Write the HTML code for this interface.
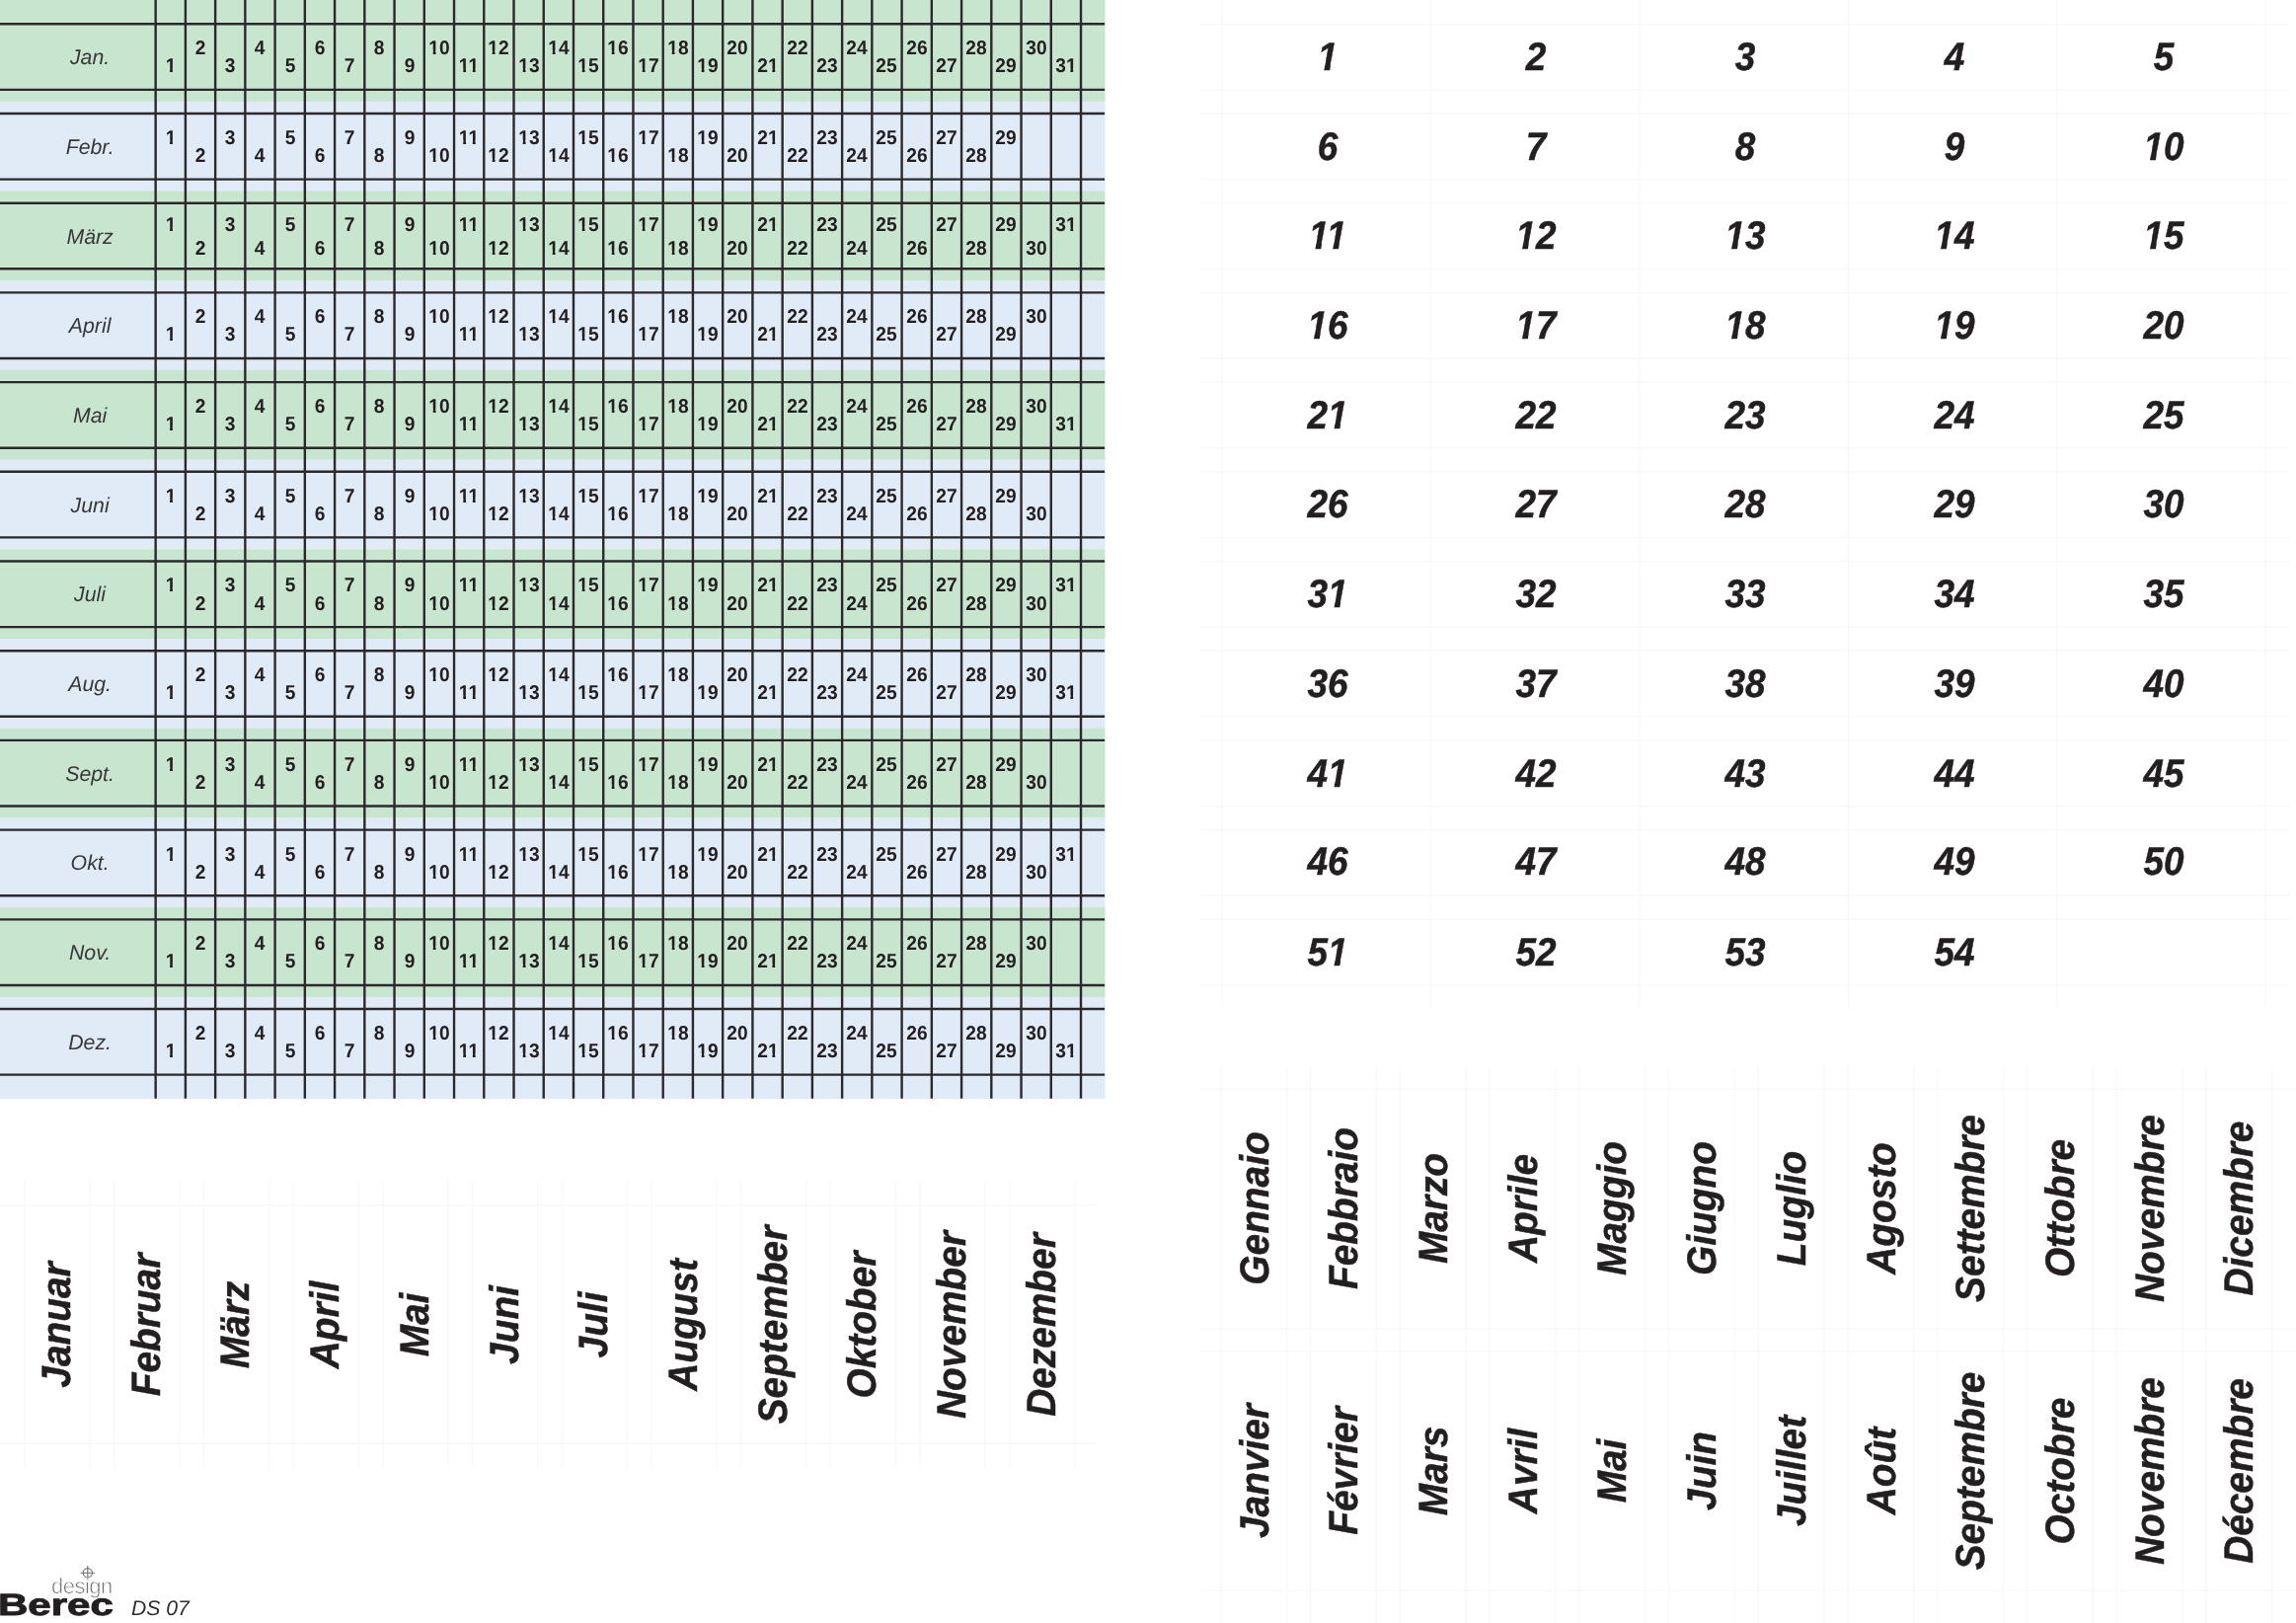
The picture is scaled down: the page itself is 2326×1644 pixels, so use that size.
<!DOCTYPE html>
<html lang="de"><head><meta charset="utf-8"><title>Berec DS 07</title>
<style>
html,body{margin:0;padding:0;background:#fff;}
body{width:2326px;height:1644px;position:relative;overflow:hidden;font-family:"Liberation Sans",sans-serif;color:#231f20;-webkit-font-smoothing:antialiased;text-rendering:geometricPrecision;}
svg{position:absolute;left:0;top:0;}#gfx,#tx{filter:blur(0.4px);}
.t{position:absolute;white-space:nowrap;line-height:1;transform:translate(-50%,-50%);}
.d{font-weight:bold;font-size:19.9px;transform:translate(-50%,-50%) scaleX(0.965);}
.m{font-style:italic;font-size:21.3px;color:#38383a;}
.n{font-weight:bold;font-style:italic;font-size:40.1px;transform:translate(-50%,-50%) scaleX(0.92);-webkit-text-stroke:0.5px #231f20;}
.l{font-weight:bold;font-style:italic;font-size:41.3px;transform:translate(-50%,-50%) rotate(-90deg) scaleX(0.94);-webkit-text-stroke:0.5px #231f20;}
.o{display:inline-block;}
.d .o{clip-path:polygon(-0.2em -0.3em,0.8em -0.3em,0.8em 0.5465em,0.3756em 0.5465em,0.3756em 1.3em,0.2284em 1.3em,0.2284em 0.5465em,-0.2em 0.5465em);}
.n .o{clip-path:polygon(-0.2em -0.3em,0.9em -0.3em,0.9em 0.5465em,0.3912em 0.5465em,0.3132em 0.9465em,0.1561em 0.9465em,0.2339em 0.5465em,-0.2em 0.5465em);}
.d .o+.o{margin-left:-0.055em;}
.n .o+.o{margin-left:-0.074em;}
</style></head><body>
<svg id="gfx" width="2326" height="1644" viewBox="0 0 2326 1644">
<rect x="0" y="0.00" width="1119.50" height="103.10" fill="#c8e6cf"/>
<rect x="0" y="102.80" width="1119.50" height="91.00" fill="#e1ebf8"/>
<rect x="0" y="193.50" width="1119.50" height="91.00" fill="#c8e6cf"/>
<rect x="0" y="284.21" width="1119.50" height="91.01" fill="#e1ebf8"/>
<rect x="0" y="374.92" width="1119.50" height="91.00" fill="#c8e6cf"/>
<rect x="0" y="465.62" width="1119.50" height="91.00" fill="#e1ebf8"/>
<rect x="0" y="556.32" width="1119.50" height="91.01" fill="#c8e6cf"/>
<rect x="0" y="647.03" width="1119.50" height="91.00" fill="#e1ebf8"/>
<rect x="0" y="737.73" width="1119.50" height="91.01" fill="#c8e6cf"/>
<rect x="0" y="828.44" width="1119.50" height="91.01" fill="#e1ebf8"/>
<rect x="0" y="919.14" width="1119.50" height="91.00" fill="#c8e6cf"/>
<rect x="0" y="1009.85" width="1119.50" height="103.35" fill="#e1ebf8"/>
<g stroke="#f8f8f8" stroke-width="1.3" fill="none">
<path d="M1216 24.28H2320"/>
<path d="M1216 90.89H2320"/>
<path d="M1216 114.98H2320"/>
<path d="M1216 181.59H2320"/>
<path d="M1216 205.69H2320"/>
<path d="M1216 272.30H2320"/>
<path d="M1216 296.39H2320"/>
<path d="M1216 363.00H2320"/>
<path d="M1216 387.10H2320"/>
<path d="M1216 453.71H2320"/>
<path d="M1216 477.80H2320"/>
<path d="M1216 544.41H2320"/>
<path d="M1216 568.51H2320"/>
<path d="M1216 635.12H2320"/>
<path d="M1216 659.21H2320"/>
<path d="M1216 725.82H2320"/>
<path d="M1216 749.92H2320"/>
<path d="M1216 816.53H2320"/>
<path d="M1216 840.62H2320"/>
<path d="M1216 907.24H2320"/>
<path d="M1216 931.33H2320"/>
<path d="M1216 997.94H2320"/>
<path d="M1237.80 0V1019"/>
<path d="M1449.30 0V1019"/>
<path d="M1660.80 0V1019"/>
<path d="M1872.30 0V1019"/>
<path d="M2083.80 0V1019"/>
<path d="M2295.30 0V1019"/>
<path d="M24.98 1197V1487"/>
<path d="M90.89 1197V1487"/>
<path d="M115.69 1197V1487"/>
<path d="M181.59 1197V1487"/>
<path d="M206.39 1197V1487"/>
<path d="M272.30 1197V1487"/>
<path d="M297.09 1197V1487"/>
<path d="M363.00 1197V1487"/>
<path d="M387.80 1197V1487"/>
<path d="M453.71 1197V1487"/>
<path d="M478.50 1197V1487"/>
<path d="M544.41 1197V1487"/>
<path d="M569.21 1197V1487"/>
<path d="M635.12 1197V1487"/>
<path d="M659.91 1197V1487"/>
<path d="M725.82 1197V1487"/>
<path d="M750.62 1197V1487"/>
<path d="M816.53 1197V1487"/>
<path d="M841.33 1197V1487"/>
<path d="M907.24 1197V1487"/>
<path d="M932.03 1197V1487"/>
<path d="M997.94 1197V1487"/>
<path d="M1022.74 1197V1487"/>
<path d="M1088.64 1197V1487"/>
<path d="M0 1221H1111"/><path d="M0 1462.3H1111"/>
<path d="M1237.00 1080V1644"/>
<path d="M1303.80 1080V1644"/>
<path d="M1327.70 1080V1644"/>
<path d="M1394.50 1080V1644"/>
<path d="M1418.41 1080V1644"/>
<path d="M1485.21 1080V1644"/>
<path d="M1509.12 1080V1644"/>
<path d="M1575.91 1080V1644"/>
<path d="M1599.82 1080V1644"/>
<path d="M1666.62 1080V1644"/>
<path d="M1690.53 1080V1644"/>
<path d="M1757.32 1080V1644"/>
<path d="M1781.23 1080V1644"/>
<path d="M1848.03 1080V1644"/>
<path d="M1871.93 1080V1644"/>
<path d="M1938.73 1080V1644"/>
<path d="M1962.64 1080V1644"/>
<path d="M2029.44 1080V1644"/>
<path d="M2053.35 1080V1644"/>
<path d="M2120.14 1080V1644"/>
<path d="M2144.05 1080V1644"/>
<path d="M2210.85 1080V1644"/>
<path d="M2234.76 1080V1644"/>
<path d="M2301.55 1080V1644"/>
<path d="M1216 1103.20H2326"/>
<path d="M1216 1346.20H2326"/>
<path d="M1216 1368.90H2326"/>
<path d="M1216 1610.80H2326"/>
</g>
<g stroke="#2b292b" stroke-width="2.4" fill="none">
<path d="M0 24.28H1119.10"/>
<path d="M0 90.89H1119.10"/>
<path d="M0 114.98H1119.10"/>
<path d="M0 181.59H1119.10"/>
<path d="M0 205.69H1119.10"/>
<path d="M0 272.30H1119.10"/>
<path d="M0 296.39H1119.10"/>
<path d="M0 363.00H1119.10"/>
<path d="M0 387.10H1119.10"/>
<path d="M0 453.71H1119.10"/>
<path d="M0 477.80H1119.10"/>
<path d="M0 544.41H1119.10"/>
<path d="M0 568.51H1119.10"/>
<path d="M0 635.12H1119.10"/>
<path d="M0 659.21H1119.10"/>
<path d="M0 725.82H1119.10"/>
<path d="M0 749.92H1119.10"/>
<path d="M0 816.53H1119.10"/>
<path d="M0 840.62H1119.10"/>
<path d="M0 907.24H1119.10"/>
<path d="M0 931.33H1119.10"/>
<path d="M0 997.94H1119.10"/>
<path d="M0 1022.03H1119.10"/>
<path d="M0 1088.64H1119.10"/>
<path d="M157.65 0V1112.70"/>
<path d="M187.89 0V1112.70"/>
<path d="M218.13 0V1112.70"/>
<path d="M248.36 0V1112.70"/>
<path d="M278.60 0V1112.70"/>
<path d="M308.84 0V1112.70"/>
<path d="M339.08 0V1112.70"/>
<path d="M369.32 0V1112.70"/>
<path d="M399.55 0V1112.70"/>
<path d="M429.79 0V1112.70"/>
<path d="M460.03 0V1112.70"/>
<path d="M490.27 0V1112.70"/>
<path d="M520.51 0V1112.70"/>
<path d="M550.74 0V1112.70"/>
<path d="M580.98 0V1112.70"/>
<path d="M611.22 0V1112.70"/>
<path d="M641.46 0V1112.70"/>
<path d="M671.70 0V1112.70"/>
<path d="M701.93 0V1112.70"/>
<path d="M732.17 0V1112.70"/>
<path d="M762.41 0V1112.70"/>
<path d="M792.65 0V1112.70"/>
<path d="M822.89 0V1112.70"/>
<path d="M853.12 0V1112.70"/>
<path d="M883.36 0V1112.70"/>
<path d="M913.60 0V1112.70"/>
<path d="M943.84 0V1112.70"/>
<path d="M974.08 0V1112.70"/>
<path d="M1004.31 0V1112.70"/>
<path d="M1034.55 0V1112.70"/>
<path d="M1064.79 0V1112.70"/>
<path d="M1095.03 0V1112.70"/>
</g>
<g stroke="#6f7073" stroke-width="1.1" fill="none">
<circle cx="88.8" cy="1593.2" r="4.6"/><path d="M81.6 1593.2H96M88.8 1586V1600.4"/>
</g>
</svg>
<div id="tx" style="position:absolute;left:0;top:0;width:2326px;height:1644px;will-change:transform">
<div class="t m" style="left:91.1px;top:59.09px">Jan.</div>
<div class="t d" style="left:172.77px;top:68.28px"><span class="o">1</span></div>
<div class="t d" style="left:203.01px;top:50.19px">2</div>
<div class="t d" style="left:233.25px;top:68.28px">3</div>
<div class="t d" style="left:263.48px;top:50.19px">4</div>
<div class="t d" style="left:293.72px;top:68.28px">5</div>
<div class="t d" style="left:323.96px;top:50.19px">6</div>
<div class="t d" style="left:354.20px;top:68.28px">7</div>
<div class="t d" style="left:384.44px;top:50.19px">8</div>
<div class="t d" style="left:414.67px;top:68.28px">9</div>
<div class="t d" style="left:444.91px;top:50.19px"><span class="o">1</span>0</div>
<div class="t d" style="left:475.15px;top:68.28px"><span class="o">1</span><span class="o">1</span></div>
<div class="t d" style="left:505.39px;top:50.19px"><span class="o">1</span>2</div>
<div class="t d" style="left:535.62px;top:68.28px"><span class="o">1</span>3</div>
<div class="t d" style="left:565.86px;top:50.19px"><span class="o">1</span>4</div>
<div class="t d" style="left:596.10px;top:68.28px"><span class="o">1</span>5</div>
<div class="t d" style="left:626.34px;top:50.19px"><span class="o">1</span>6</div>
<div class="t d" style="left:656.58px;top:68.28px"><span class="o">1</span>7</div>
<div class="t d" style="left:686.82px;top:50.19px"><span class="o">1</span>8</div>
<div class="t d" style="left:717.05px;top:68.28px"><span class="o">1</span>9</div>
<div class="t d" style="left:747.29px;top:50.19px">20</div>
<div class="t d" style="left:777.53px;top:68.28px">2<span class="o">1</span></div>
<div class="t d" style="left:807.77px;top:50.19px">22</div>
<div class="t d" style="left:838.00px;top:68.28px">23</div>
<div class="t d" style="left:868.24px;top:50.19px">24</div>
<div class="t d" style="left:898.48px;top:68.28px">25</div>
<div class="t d" style="left:928.72px;top:50.19px">26</div>
<div class="t d" style="left:958.96px;top:68.28px">27</div>
<div class="t d" style="left:989.19px;top:50.19px">28</div>
<div class="t d" style="left:1019.43px;top:68.28px">29</div>
<div class="t d" style="left:1049.67px;top:50.19px">30</div>
<div class="t d" style="left:1079.91px;top:68.28px">3<span class="o">1</span></div>
<div class="t m" style="left:91.1px;top:149.79px">Febr.</div>
<div class="t d" style="left:172.77px;top:140.89px"><span class="o">1</span></div>
<div class="t d" style="left:203.01px;top:158.99px">2</div>
<div class="t d" style="left:233.25px;top:140.89px">3</div>
<div class="t d" style="left:263.48px;top:158.99px">4</div>
<div class="t d" style="left:293.72px;top:140.89px">5</div>
<div class="t d" style="left:323.96px;top:158.99px">6</div>
<div class="t d" style="left:354.20px;top:140.89px">7</div>
<div class="t d" style="left:384.44px;top:158.99px">8</div>
<div class="t d" style="left:414.67px;top:140.89px">9</div>
<div class="t d" style="left:444.91px;top:158.99px"><span class="o">1</span>0</div>
<div class="t d" style="left:475.15px;top:140.89px"><span class="o">1</span><span class="o">1</span></div>
<div class="t d" style="left:505.39px;top:158.99px"><span class="o">1</span>2</div>
<div class="t d" style="left:535.62px;top:140.89px"><span class="o">1</span>3</div>
<div class="t d" style="left:565.86px;top:158.99px"><span class="o">1</span>4</div>
<div class="t d" style="left:596.10px;top:140.89px"><span class="o">1</span>5</div>
<div class="t d" style="left:626.34px;top:158.99px"><span class="o">1</span>6</div>
<div class="t d" style="left:656.58px;top:140.89px"><span class="o">1</span>7</div>
<div class="t d" style="left:686.82px;top:158.99px"><span class="o">1</span>8</div>
<div class="t d" style="left:717.05px;top:140.89px"><span class="o">1</span>9</div>
<div class="t d" style="left:747.29px;top:158.99px">20</div>
<div class="t d" style="left:777.53px;top:140.89px">2<span class="o">1</span></div>
<div class="t d" style="left:807.77px;top:158.99px">22</div>
<div class="t d" style="left:838.00px;top:140.89px">23</div>
<div class="t d" style="left:868.24px;top:158.99px">24</div>
<div class="t d" style="left:898.48px;top:140.89px">25</div>
<div class="t d" style="left:928.72px;top:158.99px">26</div>
<div class="t d" style="left:958.96px;top:140.89px">27</div>
<div class="t d" style="left:989.19px;top:158.99px">28</div>
<div class="t d" style="left:1019.43px;top:140.89px">29</div>
<div class="t m" style="left:91.1px;top:240.50px">März</div>
<div class="t d" style="left:172.77px;top:228.59px"><span class="o">1</span></div>
<div class="t d" style="left:203.01px;top:252.80px">2</div>
<div class="t d" style="left:233.25px;top:228.59px">3</div>
<div class="t d" style="left:263.48px;top:252.80px">4</div>
<div class="t d" style="left:293.72px;top:228.59px">5</div>
<div class="t d" style="left:323.96px;top:252.80px">6</div>
<div class="t d" style="left:354.20px;top:228.59px">7</div>
<div class="t d" style="left:384.44px;top:252.80px">8</div>
<div class="t d" style="left:414.67px;top:228.59px">9</div>
<div class="t d" style="left:444.91px;top:252.80px"><span class="o">1</span>0</div>
<div class="t d" style="left:475.15px;top:228.59px"><span class="o">1</span><span class="o">1</span></div>
<div class="t d" style="left:505.39px;top:252.80px"><span class="o">1</span>2</div>
<div class="t d" style="left:535.62px;top:228.59px"><span class="o">1</span>3</div>
<div class="t d" style="left:565.86px;top:252.80px"><span class="o">1</span>4</div>
<div class="t d" style="left:596.10px;top:228.59px"><span class="o">1</span>5</div>
<div class="t d" style="left:626.34px;top:252.80px"><span class="o">1</span>6</div>
<div class="t d" style="left:656.58px;top:228.59px"><span class="o">1</span>7</div>
<div class="t d" style="left:686.82px;top:252.80px"><span class="o">1</span>8</div>
<div class="t d" style="left:717.05px;top:228.59px"><span class="o">1</span>9</div>
<div class="t d" style="left:747.29px;top:252.80px">20</div>
<div class="t d" style="left:777.53px;top:228.59px">2<span class="o">1</span></div>
<div class="t d" style="left:807.77px;top:252.80px">22</div>
<div class="t d" style="left:838.00px;top:228.59px">23</div>
<div class="t d" style="left:868.24px;top:252.80px">24</div>
<div class="t d" style="left:898.48px;top:228.59px">25</div>
<div class="t d" style="left:928.72px;top:252.80px">26</div>
<div class="t d" style="left:958.96px;top:228.59px">27</div>
<div class="t d" style="left:989.19px;top:252.80px">28</div>
<div class="t d" style="left:1019.43px;top:228.59px">29</div>
<div class="t d" style="left:1049.67px;top:252.80px">30</div>
<div class="t d" style="left:1079.91px;top:228.59px">3<span class="o">1</span></div>
<div class="t m" style="left:91.1px;top:331.20px">April</div>
<div class="t d" style="left:172.77px;top:340.40px"><span class="o">1</span></div>
<div class="t d" style="left:203.01px;top:322.30px">2</div>
<div class="t d" style="left:233.25px;top:340.40px">3</div>
<div class="t d" style="left:263.48px;top:322.30px">4</div>
<div class="t d" style="left:293.72px;top:340.40px">5</div>
<div class="t d" style="left:323.96px;top:322.30px">6</div>
<div class="t d" style="left:354.20px;top:340.40px">7</div>
<div class="t d" style="left:384.44px;top:322.30px">8</div>
<div class="t d" style="left:414.67px;top:340.40px">9</div>
<div class="t d" style="left:444.91px;top:322.30px"><span class="o">1</span>0</div>
<div class="t d" style="left:475.15px;top:340.40px"><span class="o">1</span><span class="o">1</span></div>
<div class="t d" style="left:505.39px;top:322.30px"><span class="o">1</span>2</div>
<div class="t d" style="left:535.62px;top:340.40px"><span class="o">1</span>3</div>
<div class="t d" style="left:565.86px;top:322.30px"><span class="o">1</span>4</div>
<div class="t d" style="left:596.10px;top:340.40px"><span class="o">1</span>5</div>
<div class="t d" style="left:626.34px;top:322.30px"><span class="o">1</span>6</div>
<div class="t d" style="left:656.58px;top:340.40px"><span class="o">1</span>7</div>
<div class="t d" style="left:686.82px;top:322.30px"><span class="o">1</span>8</div>
<div class="t d" style="left:717.05px;top:340.40px"><span class="o">1</span>9</div>
<div class="t d" style="left:747.29px;top:322.30px">20</div>
<div class="t d" style="left:777.53px;top:340.40px">2<span class="o">1</span></div>
<div class="t d" style="left:807.77px;top:322.30px">22</div>
<div class="t d" style="left:838.00px;top:340.40px">23</div>
<div class="t d" style="left:868.24px;top:322.30px">24</div>
<div class="t d" style="left:898.48px;top:340.40px">25</div>
<div class="t d" style="left:928.72px;top:322.30px">26</div>
<div class="t d" style="left:958.96px;top:340.40px">27</div>
<div class="t d" style="left:989.19px;top:322.30px">28</div>
<div class="t d" style="left:1019.43px;top:340.40px">29</div>
<div class="t d" style="left:1049.67px;top:322.30px">30</div>
<div class="t m" style="left:91.1px;top:421.90px">Mai</div>
<div class="t d" style="left:172.77px;top:431.10px"><span class="o">1</span></div>
<div class="t d" style="left:203.01px;top:413.00px">2</div>
<div class="t d" style="left:233.25px;top:431.10px">3</div>
<div class="t d" style="left:263.48px;top:413.00px">4</div>
<div class="t d" style="left:293.72px;top:431.10px">5</div>
<div class="t d" style="left:323.96px;top:413.00px">6</div>
<div class="t d" style="left:354.20px;top:431.10px">7</div>
<div class="t d" style="left:384.44px;top:413.00px">8</div>
<div class="t d" style="left:414.67px;top:431.10px">9</div>
<div class="t d" style="left:444.91px;top:413.00px"><span class="o">1</span>0</div>
<div class="t d" style="left:475.15px;top:431.10px"><span class="o">1</span><span class="o">1</span></div>
<div class="t d" style="left:505.39px;top:413.00px"><span class="o">1</span>2</div>
<div class="t d" style="left:535.62px;top:431.10px"><span class="o">1</span>3</div>
<div class="t d" style="left:565.86px;top:413.00px"><span class="o">1</span>4</div>
<div class="t d" style="left:596.10px;top:431.10px"><span class="o">1</span>5</div>
<div class="t d" style="left:626.34px;top:413.00px"><span class="o">1</span>6</div>
<div class="t d" style="left:656.58px;top:431.10px"><span class="o">1</span>7</div>
<div class="t d" style="left:686.82px;top:413.00px"><span class="o">1</span>8</div>
<div class="t d" style="left:717.05px;top:431.10px"><span class="o">1</span>9</div>
<div class="t d" style="left:747.29px;top:413.00px">20</div>
<div class="t d" style="left:777.53px;top:431.10px">2<span class="o">1</span></div>
<div class="t d" style="left:807.77px;top:413.00px">22</div>
<div class="t d" style="left:838.00px;top:431.10px">23</div>
<div class="t d" style="left:868.24px;top:413.00px">24</div>
<div class="t d" style="left:898.48px;top:431.10px">25</div>
<div class="t d" style="left:928.72px;top:413.00px">26</div>
<div class="t d" style="left:958.96px;top:431.10px">27</div>
<div class="t d" style="left:989.19px;top:413.00px">28</div>
<div class="t d" style="left:1019.43px;top:431.10px">29</div>
<div class="t d" style="left:1049.67px;top:413.00px">30</div>
<div class="t d" style="left:1079.91px;top:431.10px">3<span class="o">1</span></div>
<div class="t m" style="left:91.1px;top:512.61px">Juni</div>
<div class="t d" style="left:172.77px;top:503.71px"><span class="o">1</span></div>
<div class="t d" style="left:203.01px;top:521.81px">2</div>
<div class="t d" style="left:233.25px;top:503.71px">3</div>
<div class="t d" style="left:263.48px;top:521.81px">4</div>
<div class="t d" style="left:293.72px;top:503.71px">5</div>
<div class="t d" style="left:323.96px;top:521.81px">6</div>
<div class="t d" style="left:354.20px;top:503.71px">7</div>
<div class="t d" style="left:384.44px;top:521.81px">8</div>
<div class="t d" style="left:414.67px;top:503.71px">9</div>
<div class="t d" style="left:444.91px;top:521.81px"><span class="o">1</span>0</div>
<div class="t d" style="left:475.15px;top:503.71px"><span class="o">1</span><span class="o">1</span></div>
<div class="t d" style="left:505.39px;top:521.81px"><span class="o">1</span>2</div>
<div class="t d" style="left:535.62px;top:503.71px"><span class="o">1</span>3</div>
<div class="t d" style="left:565.86px;top:521.81px"><span class="o">1</span>4</div>
<div class="t d" style="left:596.10px;top:503.71px"><span class="o">1</span>5</div>
<div class="t d" style="left:626.34px;top:521.81px"><span class="o">1</span>6</div>
<div class="t d" style="left:656.58px;top:503.71px"><span class="o">1</span>7</div>
<div class="t d" style="left:686.82px;top:521.81px"><span class="o">1</span>8</div>
<div class="t d" style="left:717.05px;top:503.71px"><span class="o">1</span>9</div>
<div class="t d" style="left:747.29px;top:521.81px">20</div>
<div class="t d" style="left:777.53px;top:503.71px">2<span class="o">1</span></div>
<div class="t d" style="left:807.77px;top:521.81px">22</div>
<div class="t d" style="left:838.00px;top:503.71px">23</div>
<div class="t d" style="left:868.24px;top:521.81px">24</div>
<div class="t d" style="left:898.48px;top:503.71px">25</div>
<div class="t d" style="left:928.72px;top:521.81px">26</div>
<div class="t d" style="left:958.96px;top:503.71px">27</div>
<div class="t d" style="left:989.19px;top:521.81px">28</div>
<div class="t d" style="left:1019.43px;top:503.71px">29</div>
<div class="t d" style="left:1049.67px;top:521.81px">30</div>
<div class="t m" style="left:91.1px;top:603.32px">Juli</div>
<div class="t d" style="left:172.77px;top:594.42px"><span class="o">1</span></div>
<div class="t d" style="left:203.01px;top:612.52px">2</div>
<div class="t d" style="left:233.25px;top:594.42px">3</div>
<div class="t d" style="left:263.48px;top:612.52px">4</div>
<div class="t d" style="left:293.72px;top:594.42px">5</div>
<div class="t d" style="left:323.96px;top:612.52px">6</div>
<div class="t d" style="left:354.20px;top:594.42px">7</div>
<div class="t d" style="left:384.44px;top:612.52px">8</div>
<div class="t d" style="left:414.67px;top:594.42px">9</div>
<div class="t d" style="left:444.91px;top:612.52px"><span class="o">1</span>0</div>
<div class="t d" style="left:475.15px;top:594.42px"><span class="o">1</span><span class="o">1</span></div>
<div class="t d" style="left:505.39px;top:612.52px"><span class="o">1</span>2</div>
<div class="t d" style="left:535.62px;top:594.42px"><span class="o">1</span>3</div>
<div class="t d" style="left:565.86px;top:612.52px"><span class="o">1</span>4</div>
<div class="t d" style="left:596.10px;top:594.42px"><span class="o">1</span>5</div>
<div class="t d" style="left:626.34px;top:612.52px"><span class="o">1</span>6</div>
<div class="t d" style="left:656.58px;top:594.42px"><span class="o">1</span>7</div>
<div class="t d" style="left:686.82px;top:612.52px"><span class="o">1</span>8</div>
<div class="t d" style="left:717.05px;top:594.42px"><span class="o">1</span>9</div>
<div class="t d" style="left:747.29px;top:612.52px">20</div>
<div class="t d" style="left:777.53px;top:594.42px">2<span class="o">1</span></div>
<div class="t d" style="left:807.77px;top:612.52px">22</div>
<div class="t d" style="left:838.00px;top:594.42px">23</div>
<div class="t d" style="left:868.24px;top:612.52px">24</div>
<div class="t d" style="left:898.48px;top:594.42px">25</div>
<div class="t d" style="left:928.72px;top:612.52px">26</div>
<div class="t d" style="left:958.96px;top:594.42px">27</div>
<div class="t d" style="left:989.19px;top:612.52px">28</div>
<div class="t d" style="left:1019.43px;top:594.42px">29</div>
<div class="t d" style="left:1049.67px;top:612.52px">30</div>
<div class="t d" style="left:1079.91px;top:594.42px">3<span class="o">1</span></div>
<div class="t m" style="left:91.1px;top:694.02px">Aug.</div>
<div class="t d" style="left:172.77px;top:703.22px"><span class="o">1</span></div>
<div class="t d" style="left:203.01px;top:685.12px">2</div>
<div class="t d" style="left:233.25px;top:703.22px">3</div>
<div class="t d" style="left:263.48px;top:685.12px">4</div>
<div class="t d" style="left:293.72px;top:703.22px">5</div>
<div class="t d" style="left:323.96px;top:685.12px">6</div>
<div class="t d" style="left:354.20px;top:703.22px">7</div>
<div class="t d" style="left:384.44px;top:685.12px">8</div>
<div class="t d" style="left:414.67px;top:703.22px">9</div>
<div class="t d" style="left:444.91px;top:685.12px"><span class="o">1</span>0</div>
<div class="t d" style="left:475.15px;top:703.22px"><span class="o">1</span><span class="o">1</span></div>
<div class="t d" style="left:505.39px;top:685.12px"><span class="o">1</span>2</div>
<div class="t d" style="left:535.62px;top:703.22px"><span class="o">1</span>3</div>
<div class="t d" style="left:565.86px;top:685.12px"><span class="o">1</span>4</div>
<div class="t d" style="left:596.10px;top:703.22px"><span class="o">1</span>5</div>
<div class="t d" style="left:626.34px;top:685.12px"><span class="o">1</span>6</div>
<div class="t d" style="left:656.58px;top:703.22px"><span class="o">1</span>7</div>
<div class="t d" style="left:686.82px;top:685.12px"><span class="o">1</span>8</div>
<div class="t d" style="left:717.05px;top:703.22px"><span class="o">1</span>9</div>
<div class="t d" style="left:747.29px;top:685.12px">20</div>
<div class="t d" style="left:777.53px;top:703.22px">2<span class="o">1</span></div>
<div class="t d" style="left:807.77px;top:685.12px">22</div>
<div class="t d" style="left:838.00px;top:703.22px">23</div>
<div class="t d" style="left:868.24px;top:685.12px">24</div>
<div class="t d" style="left:898.48px;top:703.22px">25</div>
<div class="t d" style="left:928.72px;top:685.12px">26</div>
<div class="t d" style="left:958.96px;top:703.22px">27</div>
<div class="t d" style="left:989.19px;top:685.12px">28</div>
<div class="t d" style="left:1019.43px;top:703.22px">29</div>
<div class="t d" style="left:1049.67px;top:685.12px">30</div>
<div class="t d" style="left:1079.91px;top:703.22px">3<span class="o">1</span></div>
<div class="t m" style="left:91.1px;top:784.73px">Sept.</div>
<div class="t d" style="left:172.77px;top:775.83px"><span class="o">1</span></div>
<div class="t d" style="left:203.01px;top:793.93px">2</div>
<div class="t d" style="left:233.25px;top:775.83px">3</div>
<div class="t d" style="left:263.48px;top:793.93px">4</div>
<div class="t d" style="left:293.72px;top:775.83px">5</div>
<div class="t d" style="left:323.96px;top:793.93px">6</div>
<div class="t d" style="left:354.20px;top:775.83px">7</div>
<div class="t d" style="left:384.44px;top:793.93px">8</div>
<div class="t d" style="left:414.67px;top:775.83px">9</div>
<div class="t d" style="left:444.91px;top:793.93px"><span class="o">1</span>0</div>
<div class="t d" style="left:475.15px;top:775.83px"><span class="o">1</span><span class="o">1</span></div>
<div class="t d" style="left:505.39px;top:793.93px"><span class="o">1</span>2</div>
<div class="t d" style="left:535.62px;top:775.83px"><span class="o">1</span>3</div>
<div class="t d" style="left:565.86px;top:793.93px"><span class="o">1</span>4</div>
<div class="t d" style="left:596.10px;top:775.83px"><span class="o">1</span>5</div>
<div class="t d" style="left:626.34px;top:793.93px"><span class="o">1</span>6</div>
<div class="t d" style="left:656.58px;top:775.83px"><span class="o">1</span>7</div>
<div class="t d" style="left:686.82px;top:793.93px"><span class="o">1</span>8</div>
<div class="t d" style="left:717.05px;top:775.83px"><span class="o">1</span>9</div>
<div class="t d" style="left:747.29px;top:793.93px">20</div>
<div class="t d" style="left:777.53px;top:775.83px">2<span class="o">1</span></div>
<div class="t d" style="left:807.77px;top:793.93px">22</div>
<div class="t d" style="left:838.00px;top:775.83px">23</div>
<div class="t d" style="left:868.24px;top:793.93px">24</div>
<div class="t d" style="left:898.48px;top:775.83px">25</div>
<div class="t d" style="left:928.72px;top:793.93px">26</div>
<div class="t d" style="left:958.96px;top:775.83px">27</div>
<div class="t d" style="left:989.19px;top:793.93px">28</div>
<div class="t d" style="left:1019.43px;top:775.83px">29</div>
<div class="t d" style="left:1049.67px;top:793.93px">30</div>
<div class="t m" style="left:91.1px;top:875.43px">Okt.</div>
<div class="t d" style="left:172.77px;top:866.53px"><span class="o">1</span></div>
<div class="t d" style="left:203.01px;top:884.63px">2</div>
<div class="t d" style="left:233.25px;top:866.53px">3</div>
<div class="t d" style="left:263.48px;top:884.63px">4</div>
<div class="t d" style="left:293.72px;top:866.53px">5</div>
<div class="t d" style="left:323.96px;top:884.63px">6</div>
<div class="t d" style="left:354.20px;top:866.53px">7</div>
<div class="t d" style="left:384.44px;top:884.63px">8</div>
<div class="t d" style="left:414.67px;top:866.53px">9</div>
<div class="t d" style="left:444.91px;top:884.63px"><span class="o">1</span>0</div>
<div class="t d" style="left:475.15px;top:866.53px"><span class="o">1</span><span class="o">1</span></div>
<div class="t d" style="left:505.39px;top:884.63px"><span class="o">1</span>2</div>
<div class="t d" style="left:535.62px;top:866.53px"><span class="o">1</span>3</div>
<div class="t d" style="left:565.86px;top:884.63px"><span class="o">1</span>4</div>
<div class="t d" style="left:596.10px;top:866.53px"><span class="o">1</span>5</div>
<div class="t d" style="left:626.34px;top:884.63px"><span class="o">1</span>6</div>
<div class="t d" style="left:656.58px;top:866.53px"><span class="o">1</span>7</div>
<div class="t d" style="left:686.82px;top:884.63px"><span class="o">1</span>8</div>
<div class="t d" style="left:717.05px;top:866.53px"><span class="o">1</span>9</div>
<div class="t d" style="left:747.29px;top:884.63px">20</div>
<div class="t d" style="left:777.53px;top:866.53px">2<span class="o">1</span></div>
<div class="t d" style="left:807.77px;top:884.63px">22</div>
<div class="t d" style="left:838.00px;top:866.53px">23</div>
<div class="t d" style="left:868.24px;top:884.63px">24</div>
<div class="t d" style="left:898.48px;top:866.53px">25</div>
<div class="t d" style="left:928.72px;top:884.63px">26</div>
<div class="t d" style="left:958.96px;top:866.53px">27</div>
<div class="t d" style="left:989.19px;top:884.63px">28</div>
<div class="t d" style="left:1019.43px;top:866.53px">29</div>
<div class="t d" style="left:1049.67px;top:884.63px">30</div>
<div class="t d" style="left:1079.91px;top:866.53px">3<span class="o">1</span></div>
<div class="t m" style="left:91.1px;top:966.13px">Nov.</div>
<div class="t d" style="left:172.77px;top:975.34px"><span class="o">1</span></div>
<div class="t d" style="left:203.01px;top:957.24px">2</div>
<div class="t d" style="left:233.25px;top:975.34px">3</div>
<div class="t d" style="left:263.48px;top:957.24px">4</div>
<div class="t d" style="left:293.72px;top:975.34px">5</div>
<div class="t d" style="left:323.96px;top:957.24px">6</div>
<div class="t d" style="left:354.20px;top:975.34px">7</div>
<div class="t d" style="left:384.44px;top:957.24px">8</div>
<div class="t d" style="left:414.67px;top:975.34px">9</div>
<div class="t d" style="left:444.91px;top:957.24px"><span class="o">1</span>0</div>
<div class="t d" style="left:475.15px;top:975.34px"><span class="o">1</span><span class="o">1</span></div>
<div class="t d" style="left:505.39px;top:957.24px"><span class="o">1</span>2</div>
<div class="t d" style="left:535.62px;top:975.34px"><span class="o">1</span>3</div>
<div class="t d" style="left:565.86px;top:957.24px"><span class="o">1</span>4</div>
<div class="t d" style="left:596.10px;top:975.34px"><span class="o">1</span>5</div>
<div class="t d" style="left:626.34px;top:957.24px"><span class="o">1</span>6</div>
<div class="t d" style="left:656.58px;top:975.34px"><span class="o">1</span>7</div>
<div class="t d" style="left:686.82px;top:957.24px"><span class="o">1</span>8</div>
<div class="t d" style="left:717.05px;top:975.34px"><span class="o">1</span>9</div>
<div class="t d" style="left:747.29px;top:957.24px">20</div>
<div class="t d" style="left:777.53px;top:975.34px">2<span class="o">1</span></div>
<div class="t d" style="left:807.77px;top:957.24px">22</div>
<div class="t d" style="left:838.00px;top:975.34px">23</div>
<div class="t d" style="left:868.24px;top:957.24px">24</div>
<div class="t d" style="left:898.48px;top:975.34px">25</div>
<div class="t d" style="left:928.72px;top:957.24px">26</div>
<div class="t d" style="left:958.96px;top:975.34px">27</div>
<div class="t d" style="left:989.19px;top:957.24px">28</div>
<div class="t d" style="left:1019.43px;top:975.34px">29</div>
<div class="t d" style="left:1049.67px;top:957.24px">30</div>
<div class="t m" style="left:91.1px;top:1056.84px">Dez.</div>
<div class="t d" style="left:172.77px;top:1066.04px"><span class="o">1</span></div>
<div class="t d" style="left:203.01px;top:1047.94px">2</div>
<div class="t d" style="left:233.25px;top:1066.04px">3</div>
<div class="t d" style="left:263.48px;top:1047.94px">4</div>
<div class="t d" style="left:293.72px;top:1066.04px">5</div>
<div class="t d" style="left:323.96px;top:1047.94px">6</div>
<div class="t d" style="left:354.20px;top:1066.04px">7</div>
<div class="t d" style="left:384.44px;top:1047.94px">8</div>
<div class="t d" style="left:414.67px;top:1066.04px">9</div>
<div class="t d" style="left:444.91px;top:1047.94px"><span class="o">1</span>0</div>
<div class="t d" style="left:475.15px;top:1066.04px"><span class="o">1</span><span class="o">1</span></div>
<div class="t d" style="left:505.39px;top:1047.94px"><span class="o">1</span>2</div>
<div class="t d" style="left:535.62px;top:1066.04px"><span class="o">1</span>3</div>
<div class="t d" style="left:565.86px;top:1047.94px"><span class="o">1</span>4</div>
<div class="t d" style="left:596.10px;top:1066.04px"><span class="o">1</span>5</div>
<div class="t d" style="left:626.34px;top:1047.94px"><span class="o">1</span>6</div>
<div class="t d" style="left:656.58px;top:1066.04px"><span class="o">1</span>7</div>
<div class="t d" style="left:686.82px;top:1047.94px"><span class="o">1</span>8</div>
<div class="t d" style="left:717.05px;top:1066.04px"><span class="o">1</span>9</div>
<div class="t d" style="left:747.29px;top:1047.94px">20</div>
<div class="t d" style="left:777.53px;top:1066.04px">2<span class="o">1</span></div>
<div class="t d" style="left:807.77px;top:1047.94px">22</div>
<div class="t d" style="left:838.00px;top:1066.04px">23</div>
<div class="t d" style="left:868.24px;top:1047.94px">24</div>
<div class="t d" style="left:898.48px;top:1066.04px">25</div>
<div class="t d" style="left:928.72px;top:1047.94px">26</div>
<div class="t d" style="left:958.96px;top:1066.04px">27</div>
<div class="t d" style="left:989.19px;top:1047.94px">28</div>
<div class="t d" style="left:1019.43px;top:1066.04px">29</div>
<div class="t d" style="left:1049.67px;top:1047.94px">30</div>
<div class="t d" style="left:1079.91px;top:1066.04px">3<span class="o">1</span></div>
<div class="t n" style="left:1344.70px;top:57.98px"><span class="o">1</span></div>
<div class="t n" style="left:1556.45px;top:57.98px">2</div>
<div class="t n" style="left:1768.20px;top:57.98px">3</div>
<div class="t n" style="left:1979.95px;top:57.98px">4</div>
<div class="t n" style="left:2191.70px;top:57.98px">5</div>
<div class="t n" style="left:1344.70px;top:148.69px">6</div>
<div class="t n" style="left:1556.45px;top:148.69px">7</div>
<div class="t n" style="left:1768.20px;top:148.69px">8</div>
<div class="t n" style="left:1979.95px;top:148.69px">9</div>
<div class="t n" style="left:2191.70px;top:148.69px"><span class="o">1</span>0</div>
<div class="t n" style="left:1344.70px;top:238.90px"><span class="o">1</span><span class="o">1</span></div>
<div class="t n" style="left:1556.45px;top:238.90px"><span class="o">1</span>2</div>
<div class="t n" style="left:1768.20px;top:238.90px"><span class="o">1</span>3</div>
<div class="t n" style="left:1979.95px;top:238.90px"><span class="o">1</span>4</div>
<div class="t n" style="left:2191.70px;top:238.90px"><span class="o">1</span>5</div>
<div class="t n" style="left:1344.70px;top:329.60px"><span class="o">1</span>6</div>
<div class="t n" style="left:1556.45px;top:329.60px"><span class="o">1</span>7</div>
<div class="t n" style="left:1768.20px;top:329.60px"><span class="o">1</span>8</div>
<div class="t n" style="left:1979.95px;top:329.60px"><span class="o">1</span>9</div>
<div class="t n" style="left:2191.70px;top:329.60px">20</div>
<div class="t n" style="left:1344.70px;top:420.80px">2<span class="o">1</span></div>
<div class="t n" style="left:1556.45px;top:420.80px">22</div>
<div class="t n" style="left:1768.20px;top:420.80px">23</div>
<div class="t n" style="left:1979.95px;top:420.80px">24</div>
<div class="t n" style="left:2191.70px;top:420.80px">25</div>
<div class="t n" style="left:1344.70px;top:510.51px">26</div>
<div class="t n" style="left:1556.45px;top:510.51px">27</div>
<div class="t n" style="left:1768.20px;top:510.51px">28</div>
<div class="t n" style="left:1979.95px;top:510.51px">29</div>
<div class="t n" style="left:2191.70px;top:510.51px">30</div>
<div class="t n" style="left:1344.70px;top:601.72px">3<span class="o">1</span></div>
<div class="t n" style="left:1556.45px;top:601.72px">32</div>
<div class="t n" style="left:1768.20px;top:601.72px">33</div>
<div class="t n" style="left:1979.95px;top:601.72px">34</div>
<div class="t n" style="left:2191.70px;top:601.72px">35</div>
<div class="t n" style="left:1344.70px;top:692.92px">36</div>
<div class="t n" style="left:1556.45px;top:692.92px">37</div>
<div class="t n" style="left:1768.20px;top:692.92px">38</div>
<div class="t n" style="left:1979.95px;top:692.92px">39</div>
<div class="t n" style="left:2191.70px;top:692.92px">40</div>
<div class="t n" style="left:1344.70px;top:783.62px">4<span class="o">1</span></div>
<div class="t n" style="left:1556.45px;top:783.62px">42</div>
<div class="t n" style="left:1768.20px;top:783.62px">43</div>
<div class="t n" style="left:1979.95px;top:783.62px">44</div>
<div class="t n" style="left:2191.70px;top:783.62px">45</div>
<div class="t n" style="left:1344.70px;top:873.33px">46</div>
<div class="t n" style="left:1556.45px;top:873.33px">47</div>
<div class="t n" style="left:1768.20px;top:873.33px">48</div>
<div class="t n" style="left:1979.95px;top:873.33px">49</div>
<div class="t n" style="left:2191.70px;top:873.33px">50</div>
<div class="t n" style="left:1344.70px;top:964.53px">5<span class="o">1</span></div>
<div class="t n" style="left:1556.45px;top:964.53px">52</div>
<div class="t n" style="left:1768.20px;top:964.53px">53</div>
<div class="t n" style="left:1979.95px;top:964.53px">54</div>
<div class="t l" style="left:58.00px;top:1341.8px">Januar</div>
<div class="t l" style="left:148.70px;top:1341.8px">Februar</div>
<div class="t l" style="left:239.41px;top:1341.8px">März</div>
<div class="t l" style="left:330.12px;top:1341.8px">April</div>
<div class="t l" style="left:420.82px;top:1341.8px">Mai</div>
<div class="t l" style="left:511.52px;top:1341.8px">Juni</div>
<div class="t l" style="left:602.23px;top:1341.8px">Juli</div>
<div class="t l" style="left:692.93px;top:1341.8px">August</div>
<div class="t l" style="left:783.64px;top:1341.8px">September</div>
<div class="t l" style="left:874.35px;top:1341.8px">Oktober</div>
<div class="t l" style="left:965.05px;top:1341.8px">November</div>
<div class="t l" style="left:1055.76px;top:1341.8px">Dezember</div>
<div class="t l" style="left:1271.60px;top:1224px">Gennaio</div>
<div class="t l" style="left:1362.30px;top:1224px">Febbraio</div>
<div class="t l" style="left:1453.01px;top:1224px">Marzo</div>
<div class="t l" style="left:1543.71px;top:1224px">Aprile</div>
<div class="t l" style="left:1634.42px;top:1224px">Maggio</div>
<div class="t l" style="left:1725.12px;top:1224px">Giugno</div>
<div class="t l" style="left:1815.83px;top:1224px">Luglio</div>
<div class="t l" style="left:1906.53px;top:1224px">Agosto</div>
<div class="t l" style="left:1997.24px;top:1224px">Settembre</div>
<div class="t l" style="left:2087.94px;top:1224px">Ottobre</div>
<div class="t l" style="left:2178.65px;top:1224px">Novembre</div>
<div class="t l" style="left:2269.36px;top:1224px">Dicembre</div>
<div class="t l" style="left:1271.60px;top:1490.4px">Janvier</div>
<div class="t l" style="left:1362.30px;top:1490.4px">Février</div>
<div class="t l" style="left:1453.01px;top:1490.4px">Mars</div>
<div class="t l" style="left:1543.71px;top:1490.4px">Avril</div>
<div class="t l" style="left:1634.42px;top:1490.4px">Mai</div>
<div class="t l" style="left:1725.12px;top:1490.4px">Juin</div>
<div class="t l" style="left:1815.83px;top:1490.4px">Juillet</div>
<div class="t l" style="left:1906.53px;top:1490.4px">Août</div>
<div class="t l" style="left:1997.24px;top:1490.4px">Septembre</div>
<div class="t l" style="left:2087.94px;top:1490.4px">Octobre</div>
<div class="t l" style="left:2178.65px;top:1490.4px">Novembre</div>
<div class="t l" style="left:2269.36px;top:1490.4px">Décembre</div>
<div id="design" style="position:absolute;left:52px;top:1595.7px;font-size:22px;line-height:1;color:#727376;letter-spacing:-0.5px;-webkit-text-stroke:0.6px #fff;">design</div>
<div id="berec" style="position:absolute;left:-1.6px;top:1609.6px;font-size:31px;line-height:1;font-weight:bold;transform-origin:0 0;transform:scaleX(1.355);-webkit-text-stroke:0.9px #231f20;">Berec</div>
<div id="ds" style="position:absolute;left:133px;top:1619px;font-size:21.2px;line-height:1;font-style:italic;color:#2e2d2f;">DS 07</div>
</div>
</body></html>
